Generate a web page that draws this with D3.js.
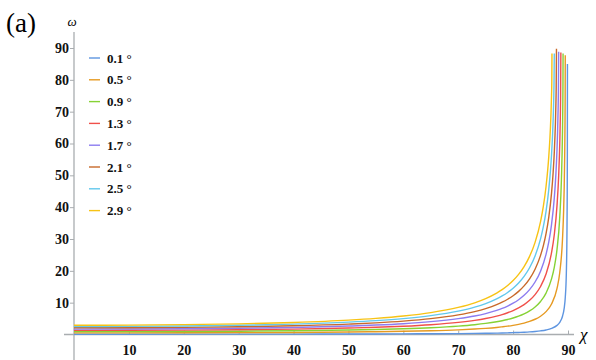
<!DOCTYPE html>
<html>
<head>
<meta charset="utf-8">
<script src="https://cdn.jsdelivr.net/npm/d3@7"></script>
<style>
  body { margin: 0; background: #fff; }
  svg { display: block; }
  .tick text { font-family: "Liberation Serif", "Times New Roman", serif; font-weight: bold; font-size: 14px; fill: #111; }
</style>
</head>
<body>
<div id="chart"></div>
<script>
var svgWidth = 596;
var svgHeight = 360;

// legend labels (tilt angle) and line colours
var angles = ["0.1", "0.5", "0.9", "1.3", "1.7", "2.1", "2.5", "2.9"];
var colors = ["#5e95e0", "#e69a22", "#86d235", "#f0504a", "#8c7cf0", "#c8692a", "#62c8ec", "#f7c315"];

var xTicks = [10, 20, 30, 40, 50, 60, 70, 80, 90];
var yTicks = [10, 20, 30, 40, 50, 60, 70, 80, 90];

// shared chi samples (degrees)
var chiGrid = [0, 10, 20, 30, 40, 50, 55, 60, 65, 70, 73, 75, 77, 78, 79, 80, 81, 82, 83, 84, 85];

// omega read at chiGrid, one array per curve
var w01 = [0.10, 0.10, 0.11, 0.12, 0.13, 0.16, 0.17, 0.20, 0.24, 0.29, 0.34, 0.39, 0.44, 0.48, 0.52, 0.58, 0.64, 0.72, 0.82, 0.96, 1.15];
var w05 = [0.50, 0.51, 0.53, 0.58, 0.65, 0.78, 0.87, 1.00, 1.18, 1.46, 1.71, 1.93, 2.22, 2.41, 2.62, 2.88, 3.20, 3.59, 4.10, 4.79, 5.74];
var w09 = [0.90, 0.91, 0.96, 1.04, 1.17, 1.40, 1.57, 1.80, 2.13, 2.63, 3.08, 3.48, 4.00, 4.33, 4.72, 5.19, 5.76, 6.48, 7.40, 8.64, 10.38];
var w13 = [1.30, 1.32, 1.38, 1.50, 1.70, 2.02, 2.27, 2.60, 3.08, 3.80, 4.45, 5.03, 5.79, 6.26, 6.83, 7.51, 8.34, 9.38, 10.73, 12.54, 15.09];
var w17 = [1.70, 1.73, 1.81, 1.96, 2.22, 2.65, 2.97, 3.40, 4.03, 4.98, 5.82, 6.58, 7.58, 8.20, 8.94, 9.84, 10.93, 12.31, 14.09, 16.49, 19.90];
var w21 = [2.10, 2.13, 2.23, 2.43, 2.74, 3.27, 3.66, 4.20, 4.97, 6.15, 7.20, 8.14, 9.37, 10.15, 11.07, 12.18, 13.55, 15.27, 17.50, 20.52, 24.86];
var w25 = [2.50, 2.54, 2.66, 2.89, 3.26, 3.89, 4.36, 5.00, 5.92, 7.33, 8.58, 9.70, 11.18, 12.11, 13.21, 14.55, 16.19, 18.27, 20.97, 24.66, 30.03];
var w29 = [2.90, 2.94, 3.09, 3.35, 3.79, 4.51, 5.06, 5.81, 6.88, 8.51, 9.96, 11.27, 13.00, 14.08, 15.38, 16.94, 18.87, 21.32, 24.53, 28.95, 35.48];

// steep ends of each curve past chi = 85, [chi, omega]
var t01 = [[86, 1.43], [87, 1.91], [88, 2.87], [88.5, 3.82], [89, 5.74], [89.3, 8.21], [89.5, 11.54], [89.7, 19.47], [89.8, 30.0], [89.85, 41.8], [89.88, 56.4], [89.9, 85.0]];
var t05 = [[86, 7.19], [87, 9.60], [88, 14.48], [88.5, 19.47], [89, 30.0], [89.2, 38.7], [89.3, 45.6], [89.4, 56.4], [89.45, 65.4], [89.48, 74.0], [89.5, 87.7]];
var t09 = [[86, 13.01], [87, 17.46], [87.5, 21.11], [88, 26.75], [88.5, 36.87], [88.8, 48.6], [89, 64.2], [89.05, 71.3], [89.08, 78.0], [89.1, 88.3]];
var t13 = [[86, 18.98], [87, 25.69], [87.5, 31.34], [88, 40.55], [88.3, 49.88], [88.5, 60.07], [88.6, 68.2], [88.65, 74.4], [88.7, 88.6]];
var t17 = [[86, 25.17], [86.5, 29.07], [87, 34.53], [87.5, 42.85], [87.8, 50.61], [88, 58.22], [88.1, 63.5], [88.2, 70.8], [88.25, 76.3], [88.3, 88.8]];
var t21 = [[85.5, 27.84], [86, 31.69], [86.5, 36.89], [87, 44.43], [87.3, 51.07], [87.5, 57.14], [87.7, 65.93], [87.8, 72.66], [87.85, 77.6], [87.9, 89.8]];
var t25 = [[85.5, 33.78], [86, 38.70], [86.5, 45.60], [86.8, 51.39], [87, 56.45], [87.2, 63.24], [87.3, 67.81], [87.4, 74.06], [87.45, 78.6], [87.5, 88.3]];
var t29 = [[85.5, 40.15], [86, 46.49], [86.3, 51.63], [86.5, 55.97], [86.7, 61.51], [86.8, 65.0], [86.9, 69.32], [87, 75.16], [87.05, 79.4], [87.08, 88.3]];

var gridSeries = [w01, w05, w09, w13, w17, w21, w25, w29];
var tailSeries = [t01, t05, t09, t13, t17, t21, t25, t29];

var series = gridSeries.map(function(w, i) {
    var pts = chiGrid.map(function(c, j) { return [c, w[j]]; });
    return pts.concat(tailSeries[i]);
});

var svg = d3.select("#chart")
    .append("svg")
    .attr("width", svgWidth)
    .attr("height", svgHeight);

var xScale = d3.scaleLinear().domain([0, 90]).range([74, 568]);
var yScale = d3.scaleLinear().domain([0, 90]).range([334.5, 48]);

var serif = "'Liberation Serif', 'Times New Roman', serif";
var axisColor = "#a9adb0";

// x axis: ticks point up into the plot
var xAxis = svg.append("g")
    .attr("transform", "translate(0," + yScale(0) + ")")
    .call(d3.axisBottom(xScale).tickValues(xTicks).tickSizeInner(-4).tickSizeOuter(0).tickPadding(8));
xAxis.select(".domain").remove();
xAxis.selectAll(".tick line").attr("stroke", axisColor);
xAxis.selectAll(".tick text").attr("dy", "0.9em");
xAxis.append("line")
    .attr("x1", 64).attr("x2", 574)
    .attr("y1", 0).attr("y2", 0)
    .attr("stroke", axisColor).attr("stroke-width", 1.3);

// y axis
var yAxis = svg.append("g")
    .attr("transform", "translate(" + xScale(0) + ",0)")
    .call(d3.axisLeft(yScale).tickValues(yTicks).tickSizeInner(4).tickSizeOuter(0).tickPadding(1));
yAxis.select(".domain").remove();
yAxis.selectAll(".tick line").attr("stroke", axisColor);
yAxis.append("line")
    .attr("x1", 0).attr("x2", 0)
    .attr("y1", 32).attr("y2", 360)
    .attr("stroke", axisColor).attr("stroke-width", 1.3);

// curves
var line = d3.line()
    .x(function(d) { return xScale(d[0]); })
    .y(function(d) { return yScale(d[1]); })
    .curve(d3.curveMonotoneX);

svg.append("g").selectAll("path")
    .data(series)
    .enter()
    .append("path")
    .attr("d", line)
    .attr("fill", "none")
    .attr("stroke", function(d, i) { return colors[i]; })
    .attr("stroke-width", 1.4);

// axis titles and panel label
svg.append("text")
    .attr("x", 6).attr("y", 32)
    .attr("font-family", serif).attr("font-size", 27)
    .text("(a)");

svg.append("text")
    .attr("x", 72).attr("y", 26)
    .attr("text-anchor", "middle")
    .attr("font-family", serif).attr("font-style", "italic").attr("font-size", 13)
    .text("ω");

svg.append("text")
    .attr("x", 580).attr("y", 340)
    .attr("font-family", serif).attr("font-style", "italic").attr("font-size", 17)
    .text("χ");

// legend
var legend = svg.append("g").attr("transform", "translate(89,58)");
var rows = legend.selectAll("g")
    .data(angles)
    .enter()
    .append("g")
    .attr("transform", function(d, i) { return "translate(0," + (i * 21.8) + ")"; });

rows.append("line")
    .attr("x1", 0).attr("x2", 11)
    .attr("y1", 0).attr("y2", 0)
    .attr("stroke", function(d, i) { return colors[i]; })
    .attr("stroke-width", 1.4);

rows.append("text")
    .attr("x", 18).attr("y", 4.5)
    .attr("font-family", serif).attr("font-weight", "bold").attr("font-size", 13)
    .attr("fill", "#111")
    .text(function(d) { return d + " °"; });
</script>
</body>
</html>
